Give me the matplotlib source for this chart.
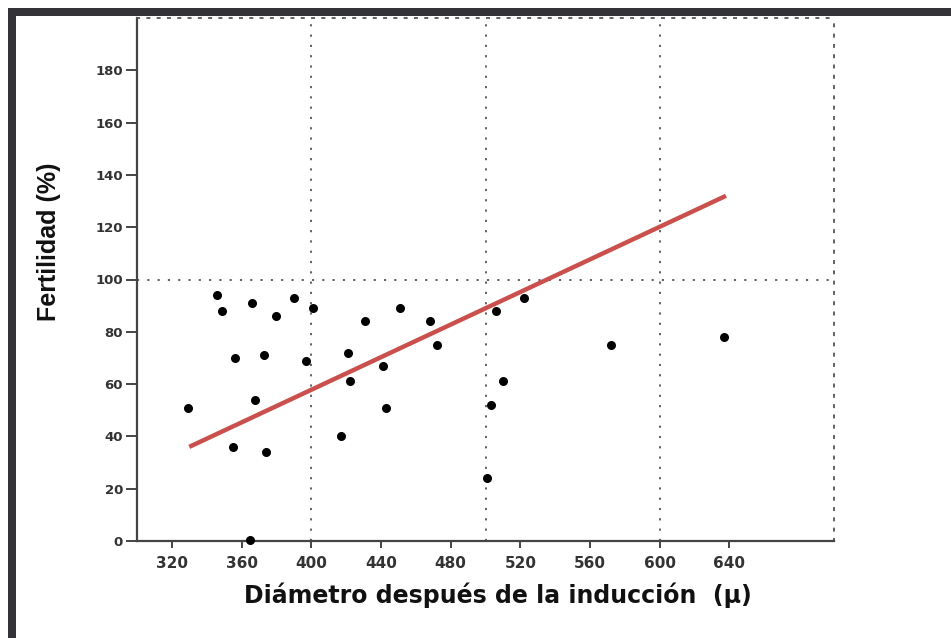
import matplotlib
matplotlib.use("Agg")
import matplotlib.pyplot as plt
from matplotlib.patches import Rectangle

# Diameter after induction (x) vs fertility (y)
diametro = [346, 349, 366, 390, 380, 401, 356, 373, 397, 329,
            368, 355, 374, 365, 431, 451, 468, 421, 441, 472,
            422, 443, 417, 522, 506, 572, 510, 503, 501, 637]
fertilidad = [94, 88, 91, 93, 86, 89, 70, 71, 69, 51,
              54, 36, 34, 0.5, 84, 89, 84, 72, 67, 75,
              61, 51, 40, 93, 88, 75, 61, 52, 24, 78]

# Regression line endpoints
fit_x = [330, 638]
fit_y = [36, 132]

x_ticks = [320, 360, 400, 440, 480, 520, 560, 600, 640]
y_ticks = [0, 20, 40, 60, 80, 100, 120, 140, 160, 180]
grid_x = [400, 500, 600]
grid_y = [100]

fig = plt.figure(figsize=(9.51, 6.38), dpi=100)
W, H = 951, 638

# dark L-shaped frame (top and left)
frame_col = "#343438"
fig.add_artist(Rectangle((8 / W, 1 - 16 / H), 1 - 8 / W, 8 / H,
                         transform=fig.transFigure, color=frame_col, lw=0))
fig.add_artist(Rectangle((8 / W, 0), 8 / W, 1 - 8 / H,
                         transform=fig.transFigure, color=frame_col, lw=0))

ax = fig.add_axes([137 / W, 1 - 541 / H, (834 - 137) / W, (541 - 18) / H])

dot = (0, (1.2, 4.5))
for gx in grid_x:
    ax.axvline(gx, color="#555555", linestyle=dot, linewidth=1.3, zorder=1)
for gy in grid_y:
    ax.axhline(gy, color="#555555", linestyle=dot, linewidth=1.3, zorder=1)

ax.plot(fit_x, fit_y, color="#c9504d", linewidth=3.2, solid_capstyle="butt", zorder=2)
ax.scatter(diametro, fertilidad, s=30, color="black", zorder=3, clip_on=False)

ax.set_xlim(300, 700)
ax.set_ylim(0, 200)
ax.set_xticks(x_ticks)
ax.set_yticks(y_ticks)

for side in ["top", "right"]:
    ax.spines[side].set_linestyle(dot)
    ax.spines[side].set_color("#555555")
    ax.spines[side].set_linewidth(1.3)
for side in ["left", "bottom"]:
    ax.spines[side].set_color("#444444")
    ax.spines[side].set_linewidth(1.6)

ax.tick_params(axis="x", direction="out", length=5, width=1.4, color="#444444",
               labelsize=11, labelcolor="#333333", pad=6)
ax.tick_params(axis="y", direction="out", length=8, width=1.4, color="#444444",
               labelsize=9.5, labelcolor="#333333", pad=2)
for lab in ax.get_xticklabels() + ax.get_yticklabels():
    lab.set_fontweight("bold")
    lab.set_family(["DejaVu Sans"])

ax.set_xlabel("Diámetro después de la inducción  (μ)", fontsize=17, fontweight="bold",
              family=["DejaVu Sans"], labelpad=8, color="#111111", x=0.518)
ax.set_ylabel("Fertilidad (%)", fontsize=18, fontweight="bold",
              family=["Liberation Sans", "DejaVu Sans"],
              labelpad=25, color="#111111", y=0.572)

fig.savefig("out.png", dpi=100)
